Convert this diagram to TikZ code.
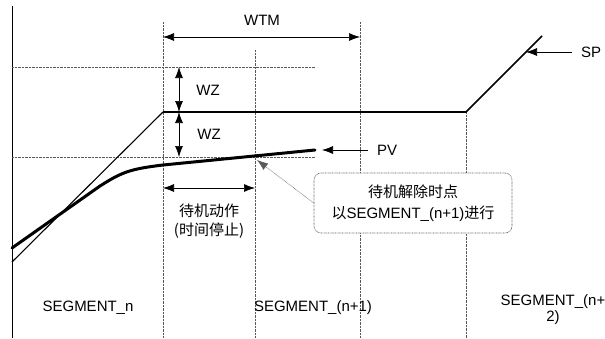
\documentclass[tikz,border=0pt]{standalone}
\usepackage{fontspec}
\setmainfont{Liberation Sans}
\newfontfamily\cjk{Noto Sans CJK SC}
\usetikzlibrary{arrows.meta}
\tikzset{
  tip/.style={Latex[length=11pt,width=8pt]},
  guide/.style={draw=black!65, line width=0.6pt, dash pattern=on 0.7pt off 0.7pt},
  dimarrow/.style={line width=0.7pt, {Latex[length=11pt,width=8pt]}-{Latex[length=11pt,width=8pt]}},
  ptr/.style={line width=0.7pt, -{Latex[length=11pt,width=8pt]}},
  lbl/.style={font=\fontsize{15}{16}\selectfont, inner sep=1pt},
  spline/.style={line width=1.6pt},
  pvline/.style={line width=3pt, line cap=round},
  callout/.style={draw=black!65, dash pattern=on 0.7pt off 0.7pt, rounded corners=7pt, fill=white, line width=0.6pt, minimum width=198pt, minimum height=60pt, align=center, font=\fontsize{15}{21}\selectfont}
}
\begin{document}
\begin{tikzpicture}[x=1pt,y=-1pt]
\useasboundingbox (0,0) rectangle (605,338);
% axis
\coordinate (axT) at (12,6);
\coordinate (axB) at (12,338);
\draw[line width=0.9pt] (axT) -- (axB);
% guides
\coordinate (g1T) at (163,22); \coordinate (g1B) at (163,338);
\coordinate (g2T) at (255,50); \coordinate (g2B) at (255,338);
\coordinate (g3T) at (360,22); \coordinate (g3B) at (360,338);
\coordinate (g4T) at (466,112); \coordinate (g4B) at (466,338);
\draw[guide] (g1T) -- (g1B);
\draw[guide] (g2T) -- (g2B);
\draw[guide] (g3T) -- (g3B);
\draw[guide] (g4T) -- (g4B);
\coordinate (h1L) at (12,67); \coordinate (h1R) at (315,67);
\coordinate (h2L) at (12,157); \coordinate (h2R) at (315,157);
\draw[guide] (h1L) -- (h1R);
\draw[guide] (h2L) -- (h2R);
% SP
\coordinate (sp0) at (12,262);
\coordinate (sp1) at (163,112);
\coordinate (sp2) at (466,112);
\coordinate (sp3) at (542,36);
\draw[line width=1.1pt] (sp0) -- (sp1);
\draw[spline, line join=miter] (sp1) -- (sp2) -- (sp3);
% PV
\coordinate (pv0) at (12,248);
\coordinate (pv1) at (315,150);
\draw[pvline] (pv0) -- (100,186) .. controls (122,172) and (130,169) .. (163,165) -- (pv1);
% WTM
\coordinate (wtmL) at (163,37); \coordinate (wtmR) at (360,37);
\draw[dimarrow] (wtmL) -- (wtmR);
\node[lbl] (wtm) at (262,20) {WTM};
% WZ
\coordinate (wz1) at (179,67); \coordinate (wz2) at (179,112); \coordinate (wz3) at (179,157);
\draw[dimarrow] (wz1) -- (wz2);
\draw[dimarrow] (wz2) -- (wz3);
\node[lbl] (wza) at (208,90) {WZ};
\node[lbl] (wzb) at (209,134) {WZ};
% wait action
\coordinate (waL) at (163,188); \coordinate (waR) at (255,188);
\draw[dimarrow] (waL) -- (waR);
\node[lbl, align=center, font={\cjk\fontsize{15}{19}\selectfont}] (wait) at (209,221) {待机动作\\(时间停止)};
% PV label
\node[lbl, anchor=west] (pvlbl) at (376,150) {PV};
\coordinate (pvtail) at (368,150);
\coordinate (pvtip) at (322,150);
\draw[ptr] (pvtail) -- (pvtip);
% SP label
\node[lbl, anchor=west] (splbl) at (580,52) {SP};
\coordinate (sptail) at (572,52);
\coordinate (sptip) at (526,52);
\draw[ptr] (sptail) -- (sptip);
% callout
\node[callout] (box) at (413,203) {{\cjk 待机解除时点}\\{\cjk 以}SEGMENT\_(n+1){\cjk 进行}};
\coordinate (pvhit) at (257,160);
\draw[line width=0.5pt, draw=black!65, dash pattern=on 0.7pt off 0.7pt, -{Latex[length=11pt,width=8pt]}] (box.west) -- (pvhit);
% segment labels
\node[lbl] (segn) at (88,308) {SEGMENT\_n};
\node[lbl] (segn1) at (313,308) {SEGMENT\_(n+1)};
\node[lbl, align=center] (segn2) at (553,310) {SEGMENT\_(n+\\2)};
\end{tikzpicture}
\end{document}
